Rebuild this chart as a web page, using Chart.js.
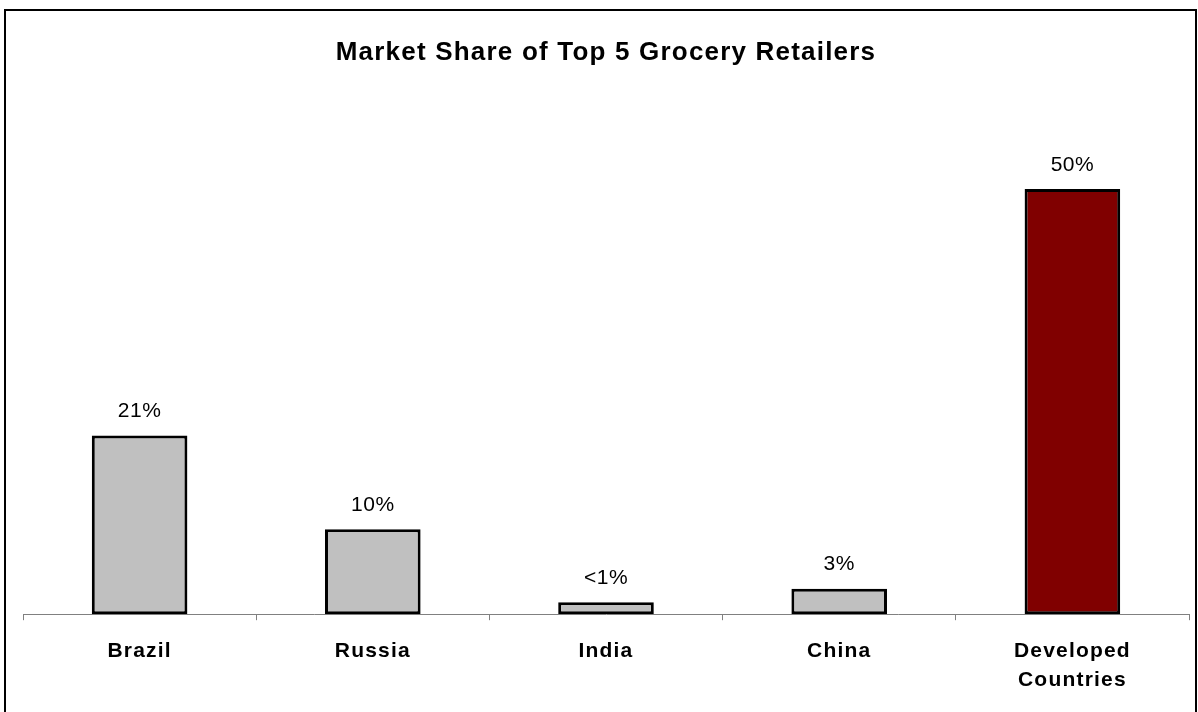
<!DOCTYPE html>
<html>
<head>
<meta charset="utf-8">
<title>Market Share of Top 5 Grocery Retailers</title>
<script src="https://cdn.jsdelivr.net/npm/chart.js@4/dist/chart.umd.min.js"></script>
<style>
    html, body { margin: 0; padding: 0; background: #fff; overflow: hidden; }
    #wrap { position: relative; width: 1198px; height: 712px; }
    #frame {
        position: absolute; left: 4px; top: 9px; width: 1189px; height: 720px;
        border: 2px solid #000; pointer-events: none;
    }
</style>
</head>
<body>
<div id="wrap">
    <canvas id="shareChart" width="1198" height="712"></canvas>
    <div id="frame"></div>
</div>
<script>
const categories = [['Brazil'], ['Russia'], ['India'], ['China'], ['Developed', 'Countries']];
const shareValues = [21, 10, 1.4, 3, 50];
const valueLabels = ['21%', '10%', '<1%', '3%', '50%'];
const barColors = ['#C0C0C0', '#C0C0C0', '#C0C0C0', '#C0C0C0', '#800000'];

// wider tracking on the chart's own text (title, axis labels)
const letterSpacingPlugin = {
    id: 'letterSpacing',
    beforeDraw: function(chart) {
        chart.ctx.letterSpacing = '1.2px';
    }
};

// percentage labels sitting above each bar
const valueLabelPlugin = {
    id: 'valueLabels',
    afterDatasetsDraw: function(chart) {
        const ctx = chart.ctx;
        const meta = chart.getDatasetMeta(0);
        ctx.save();
        ctx.letterSpacing = '0.5px';
        ctx.font = '21px "Liberation Sans", Arial, sans-serif';
        ctx.fillStyle = '#000';
        ctx.textAlign = 'center';
        ctx.textBaseline = 'middle';
        meta.data.forEach(function(bar, i) {
            ctx.fillText(valueLabels[i], bar.x, bar.y - 24);
        });
        ctx.restore();
    }
};

document.addEventListener('DOMContentLoaded', function() {
    const ctx = document.getElementById('shareChart').getContext('2d');
    new Chart(ctx, {
        type: 'bar',
        data: {
            labels: categories,
            datasets: [{
                data: shareValues,
                backgroundColor: barColors,
                borderColor: '#000',
                borderWidth: 3,
                borderSkipped: false,
                categoryPercentage: 1,
                barPercentage: 0.41
            }]
        },
        options: {
            responsive: false,
            animation: false,
            layout: {
                padding: { left: 23, right: 9, top: 0, bottom: 1 }
            },
            plugins: {
                legend: { display: false },
                tooltip: { enabled: false },
                title: {
                    display: true,
                    text: 'Market Share of Top 5 Grocery Retailers',
                    color: '#000',
                    font: { family: '"Liberation Sans", Arial, sans-serif', size: 26, weight: 'bold', lineHeight: 1.2 },
                    padding: { top: 37.4, bottom: 77.9 }
                }
            },
            scales: {
                y: {
                    display: false,
                    min: 0,
                    max: 55
                },
                x: {
                    offset: true,
                    border: { display: true, color: '#808080', width: 1 },
                    grid: {
                        offset: true,
                        drawOnChartArea: false,
                        drawTicks: true,
                        tickLength: 6,
                        color: '#808080'
                    },
                    ticks: {
                        color: '#000',
                        padding: 16,
                        maxRotation: 0,
                        font: { family: '"Liberation Sans", Arial, sans-serif', size: 21, weight: 'bold', lineHeight: 1.4 }
                    }
                }
            }
        },
        plugins: [letterSpacingPlugin, valueLabelPlugin]
    });
});
</script>
</body>
</html>
